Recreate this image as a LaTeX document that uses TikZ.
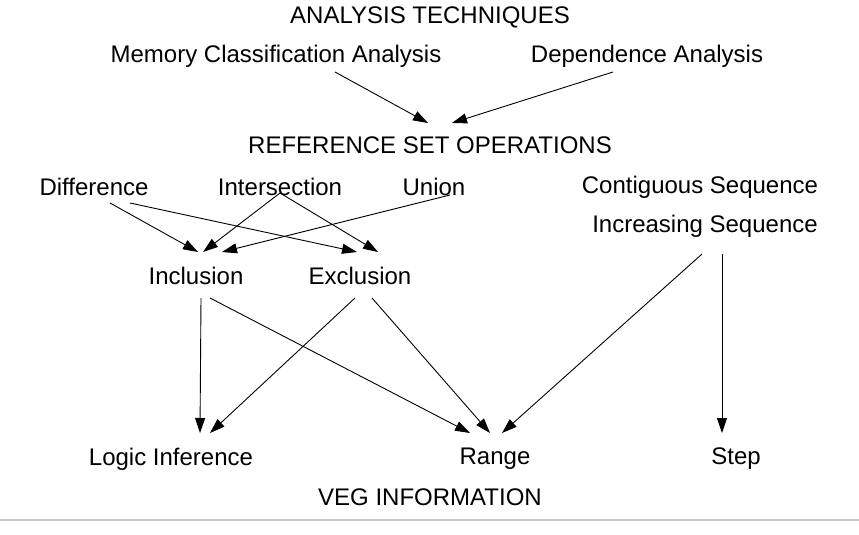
\documentclass[tikz,border=0pt]{standalone}
\usepackage{fontspec}
\setmainfont{Liberation Sans}
\usetikzlibrary{arrows.meta,calc}
\begin{document}
\begin{tikzpicture}[x=1pt,y=-1pt,
  lbl/.style={inner sep=0pt,font=\fontsize{24}{28}\selectfont},
  arr/.style={line width=0.9pt,-{Triangle[length=15pt,width=10pt]}}]
\useasboundingbox (0,0) rectangle (859,535);
\node[lbl] (at) at (430,17) {ANALYSIS TECHNIQUES};
\node[lbl] (mca) at (276,56) {Memory Classification Analysis};
\node[lbl] (dep) at (647,56) {Dependence Analysis};
\node[lbl] (rso) at (430,145) {REFERENCE SET OPERATIONS};
\node[lbl] (diff) at (94,187) {Difference};
\node[lbl] (inter) at (280,187) {Intersection};
\node[lbl] (union) at (434,187) {Union};
\node[lbl] (cont) at (700,187) {Contiguous Sequence};
\node[lbl] (incr) at (705,226) {Increasing Sequence};
\node[lbl] (incl) at (196,276) {Inclusion};
\node[lbl] (excl) at (360,276) {Exclusion};
\node[lbl] (logic) at (171,459) {Logic Inference};
\node[lbl] (range) at (495,459) {Range};
\node[lbl] (step) at (736,459) {Step};
\node[lbl] (veg) at (430,497) {VEG INFORMATION};
\draw[arr] ($(mca)+(59,16)$) -- ($(rso)+(-2,-22)$);
\draw[arr] ($(dep)+(-34,16)$) -- ($(rso)+(22,-22)$);
\draw[arr] ($(diff)+(16,16)$) -- ($(incl)+(2,-24)$);
\draw[arr] ($(diff)+(36,16)$) -- ($(excl)+(-3,-24)$);
\draw[arr] ($(inter)+(0,6)$) -- ($(incl)+(7,-24)$);
\draw[arr] ($(inter)+(0,6)$) -- ($(excl)+(18,-24)$);
\draw[arr] ($(union)+(16,8)$) -- ($(incl)+(26,-24)$);
\draw[arr] ($(incl)+(5,22)$) -- ($(logic)+(29,-26)$);
\draw[arr] ($(incl)+(14,22)$) -- ($(range)+(-25,-26)$);
\draw[arr] ($(excl)+(-5,22)$) -- ($(logic)+(39,-26)$);
\draw[arr] ($(excl)+(12,22)$) -- ($(range)+(-5,-26)$);
\draw[arr] ($(incr)+(-3,28)$) -- ($(range)+(7,-26)$);
\draw[arr] ($(incr)+(17,28)$) -- ($(step)+(-14,-26)$);
\coordinate (gl) at (0,520);
\coordinate (gr) at (859,520);
\draw[gray!45,line width=1.2pt] (gl) -- (gr);
\end{tikzpicture}
\end{document}
